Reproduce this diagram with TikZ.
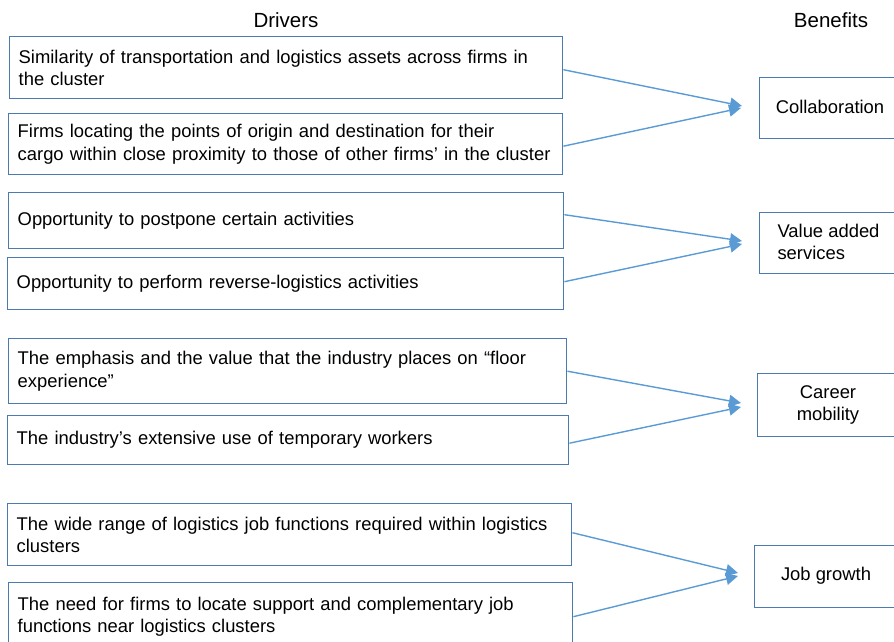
\documentclass[tikz,border=0pt]{standalone}
\usepackage{fontspec}
\setmainfont{Liberation Sans}
\usetikzlibrary{arrows.meta}
\definecolor{boxblue}{HTML}{4A7AB0}
\definecolor{arrblue}{HTML}{5B9BD5}
\begin{document}
\begin{tikzpicture}[x=1pt,y=-1pt,
  drv/.style={draw=boxblue, line width=1.4pt, anchor=north west, inner xsep=9pt, inner ysep=0pt,
    align=left, font=\fontsize{18.4}{22.5}\selectfont},
  ben/.style={draw=boxblue, line width=1.4pt, anchor=north west, inner sep=0pt},
  btxt/.style={font=\fontsize{18.4}{22.5}\selectfont},
  head/.style={font=\fontsize{20.5}{22}\selectfont},
  link/.style={draw=arrblue, line width=1.4pt, -{Triangle[length=12pt,width=12pt]}}]
\useasboundingbox (0,0) rectangle (894,642);
\clip (0,0) rectangle (894,642);
\node[head] (hd) at (286,20) {Drivers};
\node[head] (hb) at (831,20) {Benefits};
% drivers
\node[drv, text width=535pt, minimum height=62pt] (d1) at (9,36)
  {Similarity of transportation and logistics assets across firms in\\the cluster};
\node[drv, text width=536pt, minimum height=61pt] (d2) at (8,113)
  {Firms locating the points of origin and destination for their\\cargo within close proximity to those of other firms’ in the cluster};
\node[drv, text width=537pt, minimum height=56pt] (d3) at (8,192)
  {Opportunity to postpone certain activities};
\node[drv, text width=538pt, minimum height=52pt] (d4) at (7,257)
  {Opportunity to perform reverse-logistics activities};
\node[drv, text width=540pt, minimum height=65pt] (d5) at (8,338)
  {The emphasis and the value that the industry places on “floor\\experience”};
\node[drv, text width=543pt, minimum height=49pt] (d6) at (7,415)
  {The industry’s extensive use of temporary workers};
\node[drv, text width=546pt, minimum height=62pt] (d7) at (7,503)
  {The wide range of logistics job functions required within logistics\\clusters};
\node[drv, text width=546pt, minimum height=68pt] (d8) at (8,582)
  {The need for firms to locate support and complementary job\\functions near logistics clusters};
% benefits
\node[ben, minimum width=145pt, minimum height=61pt] (b1) at (759,77) {};
\node[btxt] (t1) at (830,107) {Collaboration};
\node[ben, minimum width=145pt, minimum height=61pt] (b2) at (759,212) {};
\node[btxt, align=left, anchor=west] (t2) at (774,242) {Value added\\services};
\node[ben, minimum width=147pt, minimum height=63pt] (b3) at (757,373) {};
\node[btxt, align=center] (t3) at (828,405) {Career\\mobility};
\node[ben, minimum width=150pt, minimum height=62pt] (b4) at (754,545) {};
\node[btxt] (t4) at (826,576) {Job growth};
% connectors
\coordinate (e1) at (742,106);
\coordinate (e2) at (741,108);
\coordinate (e3) at (742,241);
\coordinate (e4) at (742,244);
\coordinate (e5) at (741,403);
\coordinate (e6) at (741,407);
\coordinate (e7) at (738,573);
\coordinate (e8) at (738,576);
\draw[link] ([yshift=-2pt]d1.east) -- (e1);
\draw[link] ([yshift=-2pt]d2.east) -- (e2);
\draw[link] ([yshift=6pt]d3.east) -- (e3);
\draw[link] ([yshift=2pt]d4.east) -- (e4);
\draw[link] (d5.east) -- (e5);
\draw[link] ([yshift=-3pt]d6.east) -- (e6);
\draw[link] ([yshift=2pt]d7.east) -- (e7);
\draw[link] (d8.east) -- (e8);
\end{tikzpicture}
\end{document}
